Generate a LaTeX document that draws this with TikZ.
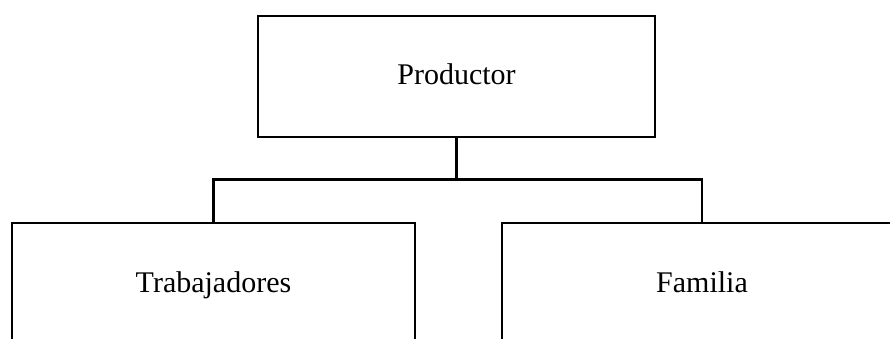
\documentclass[tikz,border=0pt]{standalone}
\usepackage{fontspec}
\setmainfont{Liberation Serif}
\begin{document}
\begin{tikzpicture}[x=1pt, y=-1pt,
  orgbox/.style={draw=black, line width=2.4pt, fill=white, inner sep=0pt,
    font=\fontsize{30}{36}\selectfont, text height=22pt, text depth=5pt},
  link/.style={draw=black, line width=2.2pt}]
  \useasboundingbox (0,0) rectangle (890,339);
  \clip (0,0) rectangle (890,339);

  % top of the hierarchy
  \node[orgbox, minimum width=397pt, minimum height=121pt] (prod) at (456.5,76.5) {Productor};

  % the two branches (their lower edges run past the page)
  \node[orgbox, minimum width=403pt, minimum height=122pt] (trab) at (213.5,284) {Trabajadores};
  \node[orgbox, minimum width=400pt, minimum height=122pt] (fam) at (702,284) {Familia};

  % junction of the branch line
  \coordinate (junc) at (456.5,179.5);

  \draw[link] (prod.south) -- (junc);
  \draw[link] (trab.north) |- (junc) -| (fam.north);
\end{tikzpicture}
\end{document}
